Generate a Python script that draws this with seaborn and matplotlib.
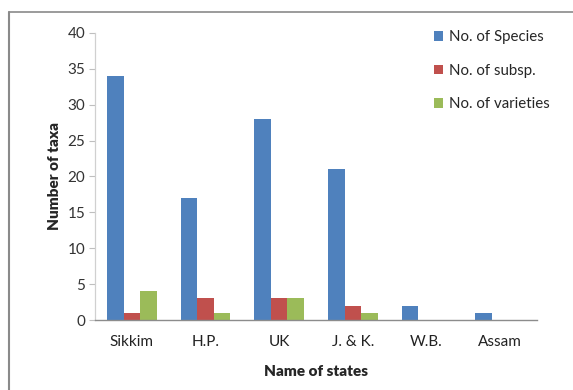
import matplotlib
matplotlib.use("Agg")
import matplotlib.pyplot as plt
from matplotlib.lines import Line2D
import seaborn as sns
import pandas as pd

states = ["Sikkim", "H.P.", "UK", "J. & K.", "W.B.", "Assam"]
species = [34, 17, 28, 21, 2, 1]
subspecies = [1, 3, 3, 2, 0, 0]
varieties = [4, 1, 3, 1, 0, 0]
series_names = ["No. of Species", "No. of subsp.", "No. of varieties"]
colors = ["#4F81BD", "#C0504D", "#9BBB59"]

df = pd.DataFrame({
    "state": states * 3,
    "count": species + subspecies + varieties,
    "series": [series_names[0]] * 6 + [series_names[1]] * 6 + [series_names[2]] * 6,
})

sns.set_theme(style="white")
plt.rcParams["font.family"] = ["Lato", "DejaVu Sans"]

fig = plt.figure(figsize=(5.73, 3.90), dpi=100)
ax = fig.add_axes([95 / 573, 70 / 390, 442 / 573, 287 / 390])

sns.barplot(data=df, x="state", y="count", hue="series", order=states,
            hue_order=series_names, palette=colors, width=0.67,
            saturation=1, ax=ax, legend=True, linewidth=0)

ax.set_ylim(0, 40)
ax.set_yticks(range(0, 41, 5))
ax.set_xlim(-0.5, 5.5)
ax.tick_params(axis="y", labelsize=11, colors="#bfbfbf", length=4,
               direction="out", left=True, width=0.8, pad=3)
for t in ax.get_yticklabels():
    t.set_color("#333333")
ax.tick_params(axis="x", labelsize=11, length=0, pad=11, labelcolor="#222222")

for s in ["top", "right"]:
    ax.spines[s].set_visible(False)
ax.spines["left"].set_color("#d0d0d0")
ax.spines["left"].set_linewidth(0.9)
ax.spines["bottom"].set_color("#8c8c8c")
ax.spines["bottom"].set_linewidth(1.0)

ax.set_ylabel("Number of taxa", fontsize=11, fontweight="heavy", labelpad=5)
ax.set_xlabel("Name of states", fontsize=11, fontweight="heavy", labelpad=11)

leg = ax.legend(loc="upper left", bbox_to_anchor=(333 / 442, 1.03), frameon=False,
                fontsize=10.8, handlelength=0.6, handleheight=0.6,
                handletextpad=0.4, labelspacing=1.3, borderaxespad=0.0)

# outer chart frame: left and top edges
fig.add_artist(Line2D([9 / 573, 9 / 573], [0, 1 - 12 / 390],
                      transform=fig.transFigure, color="#8a8a8a", linewidth=1.5))
fig.add_artist(Line2D([9 / 573, 1], [1 - 12 / 390, 1 - 12 / 390],
                      transform=fig.transFigure, color="#8a8a8a", linewidth=1.2))

fig.savefig("out.png", dpi=100, facecolor="white")
